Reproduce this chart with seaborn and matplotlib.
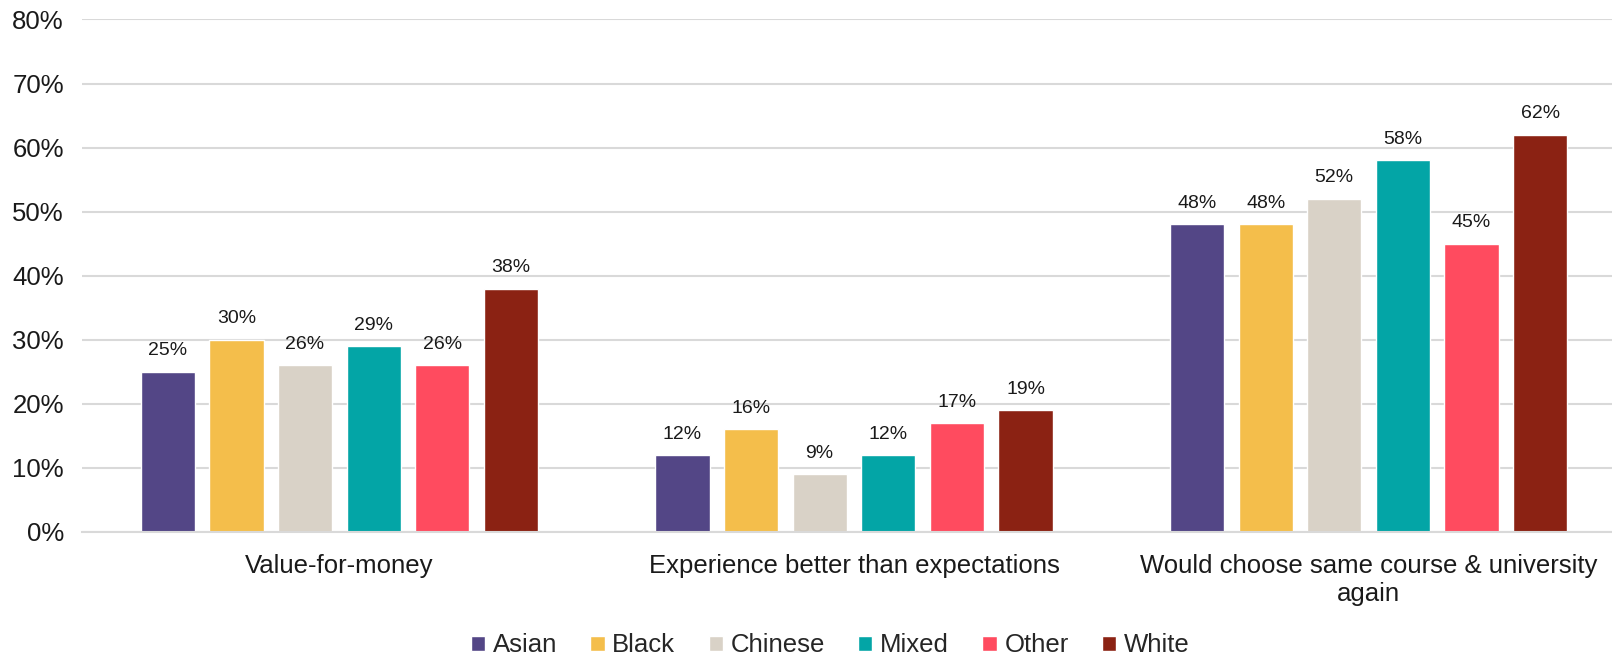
import pandas as pd
import matplotlib
matplotlib.use("Agg")
import matplotlib.pyplot as plt
import seaborn as sns
from matplotlib.ticker import PercentFormatter

categories = ["Value-for-money", "Experience better than expectations",
              "Would choose same course & university\nagain"]
groups = ["Asian", "Black", "Chinese", "Mixed", "Other", "White"]
asian = [25, 12, 48]
black = [30, 16, 48]
chinese = [26, 9, 52]
mixed = [29, 12, 58]
other = [26, 17, 45]
white = [38, 19, 62]
colors = ["#534686", "#F4BE4B", "#D9D2C7", "#03A5A6", "#FF4B5F", "#8B2213"]

rows = []
for g, vals in zip(groups, [asian, black, chinese, mixed, other, white]):
    for c, v in zip(categories, vals):
        rows.append({"Category": c, "Group": g, "Value": v})
df = pd.DataFrame(rows)

sns.set_theme(style="white")
plt.rcParams["font.family"] = ["Liberation Sans", "DejaVu Sans"]

fig = plt.figure(figsize=(16.12, 6.6), dpi=100)
# plot area runs slightly past the right edge, as in the original
ax = fig.add_axes([0.0509, 0.194, 0.9491, 0.7765])

sns.barplot(data=df, x="Category", y="Value", hue="Group", order=categories,
            hue_order=groups, palette=colors, width=0.80, gap=0.21,
            saturation=1, ax=ax, legend=True)

for cont in ax.containers:
    ax.bar_label(cont, labels=[f"{v:.0f}%" for v in cont.datavalues],
                 padding=9, fontsize=14, color="#1a1a1a")

ax.set_ylim(0, 80)
ax.set_yticks(range(0, 81, 10))
ax.yaxis.set_major_formatter(PercentFormatter(decimals=0))
ax.yaxis.grid(True, color="#D9D9D9", linewidth=1.5)
ax.set_axisbelow(True)
for s in ["top", "right", "left"]:
    ax.spines[s].set_visible(False)
ax.spines["bottom"].set_color("#D9D9D9")
ax.spines["bottom"].set_linewidth(1.5)
ax.set_xlabel("")
ax.set_ylabel("")
ax.tick_params(axis="y", labelsize=18.5, pad=13, length=0, colors="#1a1a1a")
ax.tick_params(axis="x", labelsize=18.5, pad=16, length=0, colors="#1a1a1a")
ax.set_xlim(-0.5, 2.473)

handles, labels = ax.get_legend_handles_labels()
ax.legend_.remove()
fig.legend(handles, labels, loc="center", bbox_to_anchor=(0.515, 0.022),
           ncol=6, frameon=False, fontsize=18.5, handlelength=0.55,
           handleheight=0.55, handletextpad=0.3, columnspacing=1.3)

fig.savefig("out.png", dpi=100)
